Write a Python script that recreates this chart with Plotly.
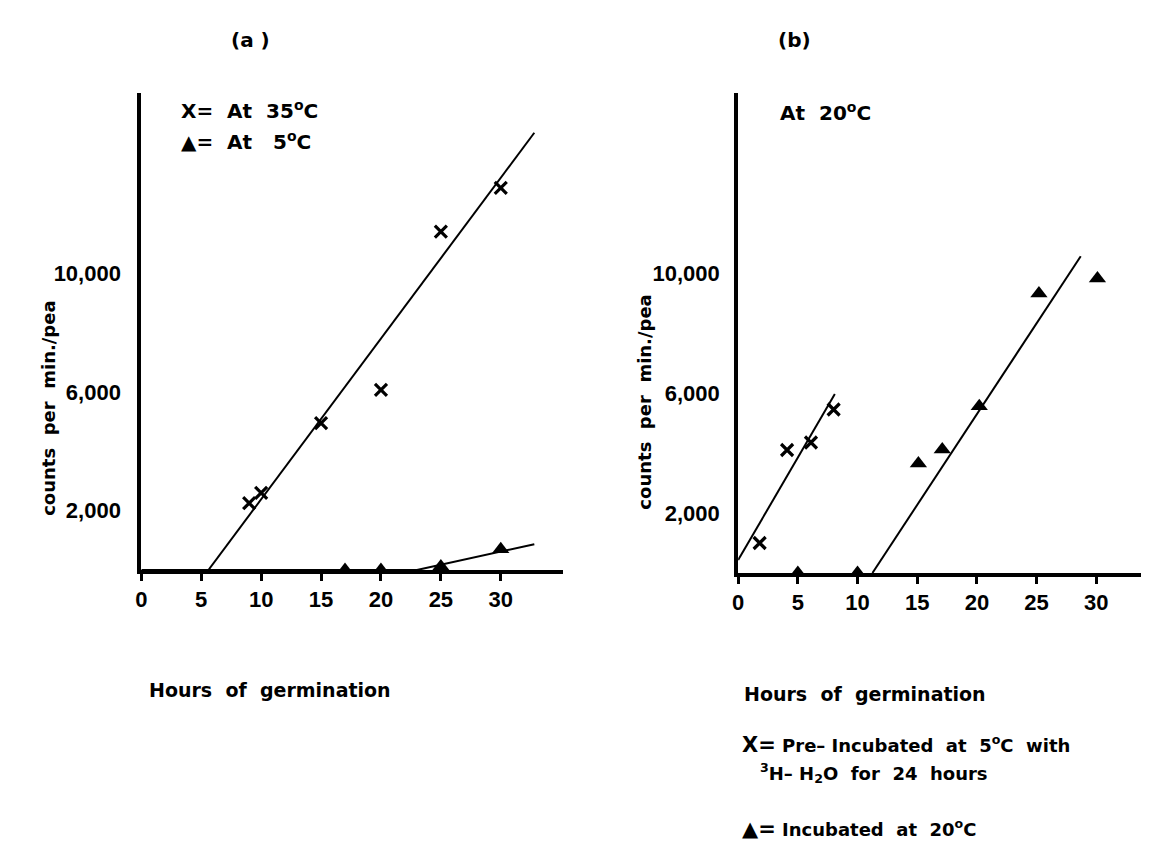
import plotly.graph_objects as go

# ---- data ----
tick_hours = [0, 5, 10, 15, 20, 25, 30]
tick_counts = [2000, 6000, 10000]
tick_count_labels = ["2,000", "6,000", "10,000"]

# panel (a)
a_x_hours = [9, 10, 15, 20, 25, 30]
a_x_counts = [2250, 2600, 4950, 6070, 11400, 12870]
a_tri_hours = [17, 20, 25, 30]
a_tri_counts = [0, 0, 120, 700]
a_x_fit_hours = [5.6, 32.8]
a_x_fit_counts = [0, 14730]
a_tri_fit_hours = [0, 23, 32.8]
a_tri_fit_counts = [0, 0, 870]

# panel (b)
b_x_hours = [1.8, 4.1, 6.1, 8.0]
b_x_counts = [1000, 4100, 4350, 5450]
b_tri_hours = [5, 10, 15.1, 17.1, 20.2, 25.2, 30.1]
b_tri_counts = [0, 0, 3650, 4120, 5560, 9320, 9820]
b_x_fit_hours = [0, 8.1]
b_x_fit_counts = [430, 5970]
b_tri_fit_hours = [11.25, 28.7]
b_tri_fit_counts = [0, 10560]

TICKFONT = "Liberation Sans"
TXTFONT = "DejaVu Sans"
OFF = 8                 # page body margin
W, H = 1149 - 2 * OFF, 850 - 2 * OFF

fig = go.Figure()

def add_panel(xa, ya, xh, xc, th, tc, fxh, fxc, fth, ftc):
    kw = dict(xaxis=xa, yaxis=ya, showlegend=False, hoverinfo="skip", cliponaxis=False)
    fig.add_trace(go.Scatter(x=fxh, y=fxc, mode="lines", line=dict(color="black", width=2), **kw))
    fig.add_trace(go.Scatter(x=fth, y=ftc, mode="lines", line=dict(color="black", width=2), **kw))
    fig.add_trace(go.Scatter(x=xh, y=xc, mode="markers",
                             marker=dict(symbol="x-thin", size=12, line=dict(color="black", width=3.2)), **kw))
    fig.add_trace(go.Scatter(x=th, y=tc, mode="markers",
                             marker=dict(symbol="triangle-up", size=15, color="black"), **kw))

add_panel("x", "y", a_x_hours, a_x_counts, a_tri_hours, a_tri_counts,
          a_x_fit_hours, a_x_fit_counts, a_tri_fit_hours, a_tri_fit_counts)
add_panel("x2", "y2", b_x_hours, b_x_counts, b_tri_hours, b_tri_counts,
          b_x_fit_hours, b_x_fit_counts, b_tri_fit_hours, b_tri_fit_counts)

def px_x(p):
    return (p - OFF) / W

def px_y(p):
    return (H - (p - OFF)) / H

xcommon = dict(showgrid=False, zeroline=False, showline=True, linecolor="black", linewidth=4,
               ticks="outside", ticklen=7, tickwidth=2.5, tickcolor="black",
               tickvals=tick_hours, ticktext=[str(v) for v in tick_hours],
               tickfont=dict(family=TICKFONT, size=22, color="black", weight="bold"), fixedrange=True)
ycommon = dict(showgrid=False, zeroline=False, showline=True, linecolor="black", linewidth=4,
               ticks="", tickvals=tick_counts, ticktext=tick_count_labels,
               tickfont=dict(family=TICKFONT, size=22, color="black", weight="bold"), fixedrange=True)

fig.update_layout(
    width=W, height=H,
    margin=dict(l=0, r=0, t=0, b=0),
    paper_bgcolor="white", plot_bgcolor="white",
    xaxis=dict(domain=[px_x(136), px_x(560)], range=[0, 35.2], anchor="y", **xcommon),
    yaxis=dict(domain=[px_y(570), px_y(93)], range=[0, 16070], anchor="x", ticklabelstandoff=12, **ycommon),
    xaxis2=dict(domain=[px_x(736), 1.0], range=[0, (1141 - 736) / 12.0], anchor="y2", **xcommon),
    yaxis2=dict(domain=[px_y(573), px_y(93)], range=[0, 16000], anchor="x2", ticklabelstandoff=10, **ycommon),
)

def ann(text, x, y, size=18, xanchor="left", yanchor="middle", angle=0, font=TXTFONT):
    fig.add_annotation(text=text, x=px_x(x), y=px_y(y), xref="paper", yref="paper",
                       showarrow=False, xanchor=xanchor, yanchor=yanchor, textangle=angle,
                       font=dict(family=font, size=size, color="black", weight="bold"), align="left")

ann("(a )", 246, 40, size=20, xanchor="center")
ann("(b)", 793, 40, size=20, xanchor="center")

ann("X=  At  35<sup>o</sup>C", 174, 110, size=20)
ann("▲=  At   5<sup>o</sup>C", 174, 141, size=20)
ann("At  20<sup>o</sup>C", 776, 112, size=20)

ann("counts  per  min./pea", 42, 408, size=18, xanchor="center", angle=-90)
ann("counts  per  min./pea", 642, 402, size=18, xanchor="center", angle=-90)

ann("Hours  of  germination", 142, 690, size=19)
ann("Hours  of  germination", 740, 694, size=19)

ann("<span style='font-size:21px'>X=</span> Pre– Incubated  at  5<sup>o</sup>C  with", 738, 744, size=18)
ann("<sup>3</sup>H– H<sub>2</sub>O  for  24  hours", 756, 773, size=18)
ann("<span style='font-size:21px'>▲=</span> Incubated  at  20<sup>o</sup>C", 738, 828, size=18)

fig.write_html("out.html")
